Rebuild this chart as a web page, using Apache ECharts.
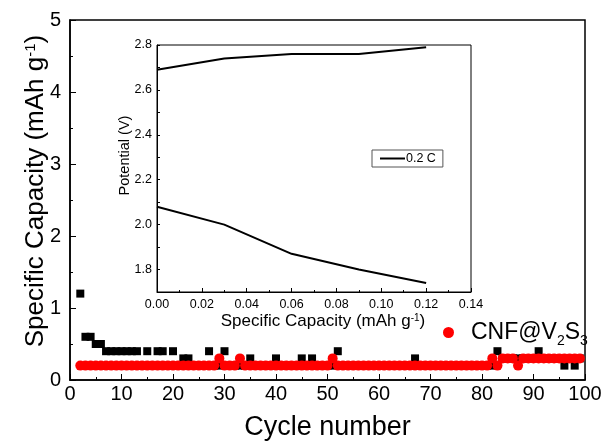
<!DOCTYPE html>
<html>
<head>
<meta charset="utf-8">
<script src="https://cdn.jsdelivr.net/npm/echarts@6/dist/echarts.min.js"></script>
<style>
  html, body { margin: 0; padding: 0; background: #fff; }
  #chart { width: 605px; height: 441px; }
</style>
</head>
<body>
<div id="chart"></div>
<script>
// cycle data, first cycle = 2
var firstCycle = 2;
var blackCap = [
  1.2, 0.6, 0.6, 0.5, 0.5, 0.4, 0.4, 0.4, 0.4, 0.4, 0.4, 0.4, 0.2, 0.4, 0.2, 0.4, 0.4, 0.2, 0.4, // 2-20
  0.2, 0.3, 0.3, 0.2, 0.2, 0.2, 0.4, 0.2, 0.2, 0.4,                                              // 21-30
  0.2, 0.2, 0.2, 0.2, 0.3, 0.2, 0.2, 0.2, 0.2, 0.3,                                              // 31-40
  0.2, 0.2, 0.2, 0.2, 0.3, 0.2, 0.3, 0.2, 0.2, 0.2,                                              // 41-50
  0.2, 0.4, 0.2, 0.2, 0.2, 0.2, 0.2, 0.2, 0.2, 0.2,                                              // 51-60
  0.2, 0.2, 0.2, 0.2, 0.2, 0.2, 0.3, 0.2, 0.2, 0.2,                                              // 61-70
  0.2, 0.2, 0.2, 0.2, 0.2, 0.2, 0.2, 0.2, 0.2, 0.2,                                              // 71-80
  0.2, 0.2, 0.4, 0.3, 0.3, 0.3, 0.3, 0.3, 0.3, 0.3,                                              // 81-90
  0.4, 0.3, 0.3, 0.3, 0.3, 0.2, 0.3, 0.2, 0.3                                                    // 91-99
];
var redCap = [
  0.2, 0.2, 0.2, 0.2, 0.2, 0.2, 0.2, 0.2, 0.2, 0.2, 0.2, 0.2, 0.2, 0.2, 0.2, 0.2, 0.2, 0.2, 0.2, // 2-20
  0.2, 0.2, 0.2, 0.2, 0.2, 0.2, 0.2, 0.2, 0.3, 0.2,                                              // 21-30
  0.2, 0.2, 0.3, 0.2, 0.2, 0.2, 0.2, 0.2, 0.2, 0.2,                                              // 31-40
  0.2, 0.2, 0.2, 0.2, 0.2, 0.2, 0.2, 0.2, 0.2, 0.2,                                              // 41-50
  0.3, 0.2, 0.2, 0.2, 0.2, 0.2, 0.2, 0.2, 0.2, 0.2,                                              // 51-60
  0.2, 0.2, 0.2, 0.2, 0.2, 0.2, 0.2, 0.2, 0.2, 0.2,                                              // 61-70
  0.2, 0.2, 0.2, 0.2, 0.2, 0.2, 0.2, 0.2, 0.2, 0.2,                                              // 71-80
  0.2, 0.3, 0.2, 0.3, 0.3, 0.3, 0.2, 0.3, 0.3, 0.3,                                              // 81-90
  0.3, 0.3, 0.3, 0.3, 0.3, 0.3, 0.3, 0.3, 0.3                                                    // 91-99
];
// inset: charge/discharge curve at 0.2 C
var insetCap = [0, 0.03, 0.06, 0.09, 0.12];
var chargeV = [2.69, 2.74, 2.76, 2.76, 2.79];
var dischargeV = [2.08, 2.0, 1.87, 1.8, 1.74];

var redName = 'CNF@V2S3';
var font = 'Liberation Sans, Arial, sans-serif';

function pairs(xs, ys, x0) {
  return ys.map(function (v, i) { return [xs ? xs[i] : x0 + i, v]; });
}

var chart = echarts.init(document.getElementById('chart'));
var option = {
  backgroundColor: '#fff',
  animation: false,
  textStyle: { fontFamily: font, color: '#000' },
  legend: [{
    data: [{ name: redName, icon: 'circle' }],
    left: 438, top: 316,
    itemWidth: 11, itemHeight: 11, itemGap: 0,
    formatter: function () { return '{a|CNF@V}{s|2}{a|S}{s|3}'; },
    textStyle: {
      fontFamily: font, color: '#000', fontSize: 23, padding: [0, 0, 0, 12],
      rich: {
        a: { fontSize: 23, fontFamily: font, lineHeight: 32, verticalAlign: 'middle' },
        s: { fontSize: 14, fontFamily: font, lineHeight: 32, verticalAlign: 'bottom' }
      }
    }
  }, {
    data: ['0.2 C'],
    left: 372, top: 150,
    icon: 'rect', itemWidth: 25, itemHeight: 2, itemGap: 0,
    padding: [2, 7, 2, 8],
    borderColor: '#555', borderWidth: 1,
    textStyle: { fontFamily: font, color: '#000', fontSize: 12.5, padding: [0, 0, 0, -4] }
  }],
  grid: [{
    left: 70, right: 20, top: 20, bottom: 61, outerBoundsMode: 'none',
    show: true, borderColor: '#000', borderWidth: 1.5
  }, {
    left: 157, right: 134, top: 45, bottom: 149, outerBoundsMode: 'none',
    show: true, borderColor: '#000', borderWidth: 1, backgroundColor: '#fff'
  }],
  xAxis: [{
    gridIndex: 0, type: 'value', min: 0, max: 100, interval: 10,
    name: 'Cycle number', nameLocation: 'middle', nameGap: 34, nameMoveOverlap: false,
    nameTextStyle: { fontSize: 27, fontFamily: font, color: '#000' },
    axisLine: { lineStyle: { color: '#000', width: 1.5 } },
    axisTick: { inside: true, length: 6, lineStyle: { color: '#000' } },
    minorTick: { show: true, splitNumber: 2, length: 3, lineStyle: { color: '#000' } },
    axisLabel: { fontSize: 20, color: '#000', margin: 4 },
    splitLine: { show: false }
  }, {
    gridIndex: 1, type: 'value', min: 0, max: 0.14, interval: 0.02,
    name: 'Specific Capacity (mAh g{sup|-1})', nameLocation: 'middle', nameGap: 21, nameMoveOverlap: false,
    nameTextStyle: {
      fontSize: 17, fontFamily: font, color: '#000', padding: [0, 0, 0, 18],
      rich: { sup: { fontSize: 10, fontFamily: font, verticalAlign: 'top', lineHeight: 17 } }
    },
    axisLine: { lineStyle: { color: '#000', width: 1 } },
    axisTick: { inside: true, length: 4, lineStyle: { color: '#000' } },
    minorTick: { show: true, splitNumber: 2, length: 2, lineStyle: { color: '#000' } },
    axisLabel: { fontSize: 12.5, color: '#000', margin: 6, formatter: function (v) { return v.toFixed(2); } },
    splitLine: { show: false }
  }],
  yAxis: [{
    gridIndex: 0, type: 'value', min: 0, max: 5, interval: 1,
    name: 'Specific Capacity (mAh g{sup|-1})', nameLocation: 'middle', nameGap: 21, nameMoveOverlap: false,
    nameTextStyle: {
      fontSize: 26, fontFamily: font, color: '#000', padding: [0, 0, 0, 18],
      rich: { sup: { fontSize: 15, fontFamily: font, verticalAlign: 'top', lineHeight: 26 } }
    },
    axisLine: { lineStyle: { color: '#000', width: 1.5 } },
    axisTick: { inside: true, length: 6, lineStyle: { color: '#000' } },
    minorTick: { show: true, splitNumber: 2, length: 3, lineStyle: { color: '#000' } },
    axisLabel: { fontSize: 20, color: '#000', margin: 9 },
    splitLine: { show: false }
  }, {
    gridIndex: 1, type: 'value', min: 1.7, max: 2.8, interval: 0.1,
    name: 'Potential (V)', nameLocation: 'middle', nameGap: 25, nameMoveOverlap: false,
    nameTextStyle: { fontSize: 14.5, fontFamily: font, color: '#000', padding: [0, 0, 0, 26] },
    axisLine: { lineStyle: { color: '#000', width: 1 } },
    axisTick: { inside: true, length: 3, lineStyle: { color: '#000' } },
    axisLabel: {
      fontSize: 12.5, color: '#000', margin: 5,
      formatter: function (v) {
        var t = Math.round(v * 10);
        return t % 2 === 0 ? (t / 10).toFixed(1) : '';
      }
    },
    splitLine: { show: false }
  }],
  series: [{
    name: 'bare', type: 'scatter', xAxisIndex: 0, yAxisIndex: 0,
    symbol: 'rect', symbolSize: 8,
    itemStyle: { color: '#000', opacity: 1 },
    data: pairs(null, blackCap, firstCycle), z: 2
  }, {
    name: redName, type: 'scatter', xAxisIndex: 0, yAxisIndex: 0,
    symbol: 'circle', symbolSize: 10,
    itemStyle: { color: '#f00', opacity: 1 },
    data: pairs(null, redCap, firstCycle), z: 3
  }, {
    name: '0.2 C', type: 'line', xAxisIndex: 1, yAxisIndex: 1,
    showSymbol: false, lineStyle: { color: '#000', width: 2 }, itemStyle: { color: '#000' },
    data: pairs(insetCap, chargeV), z: 5
  }, {
    name: '0.2 C', type: 'line', xAxisIndex: 1, yAxisIndex: 1,
    showSymbol: false, lineStyle: { color: '#000', width: 2 }, itemStyle: { color: '#000' },
    data: pairs(insetCap, dischargeV), z: 5
  }]
};
chart.setOption(option);
</script>
</body>
</html>
